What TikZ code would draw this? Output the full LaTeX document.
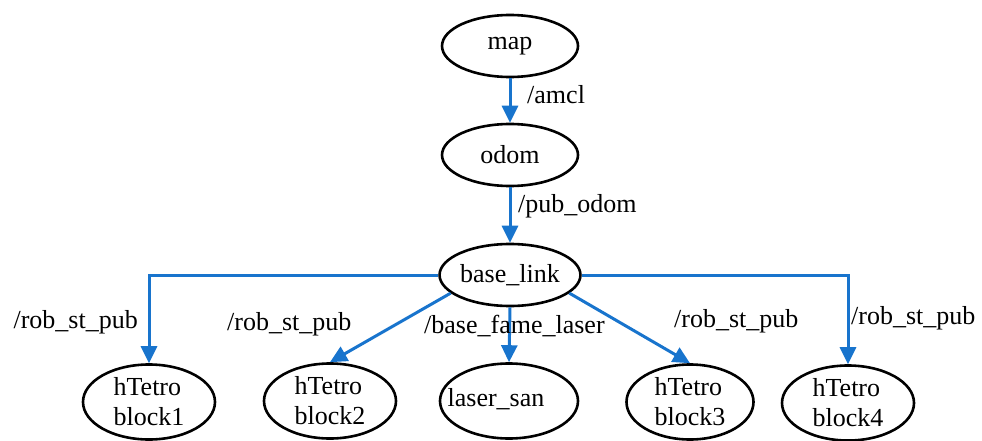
\documentclass[tikz,border=0pt]{standalone}
\usepackage{fontspec}
\setmainfont{Liberation Serif}
\usetikzlibrary{arrows.meta,shapes.geometric}

\definecolor{linkblue}{RGB}{24,116,205}

\tikzset{
  frame/.style={draw=black, line width=2.6pt, ellipse, inner sep=0pt},
  topnode/.style={frame, minimum width=136pt, minimum height=62pt},
  leafnode/.style={frame, minimum width=132pt, minimum height=75pt, align=left},
  txt/.style={font=\fontsize{26}{30}\selectfont},
  topic/.style={txt, inner sep=0pt},
  link/.style={draw=linkblue, line width=3pt, -{Triangle[length=17pt,width=16pt]}},
}

\begin{document}
\begin{tikzpicture}[x=1pt, y=-1pt]
  \useasboundingbox (0,0) rectangle (982,441);

  % frame tree
  \node[topnode, txt] (map)  at (510,46)  {map};
  \node[topnode, txt] (odom) at (510,155) {odom};
  \node[topnode, txt] (base) at (510,275) {base\_link};

  % leaf frames
  \node[leafnode, txt] (b1) at (149,402) {hTetro\\block1};
  \node[leafnode, txt] (b2) at (330,401) {hTetro\\block2};
  \node[leafnode, minimum width=138pt] (laser) at (509,401) {};
  \node[txt, inner sep=0pt] (lasertxt) at (496,399) {laser\_san};
  \node[leafnode, txt, minimum width=127pt] (b3) at (690,402) {hTetro\\block3};
  \node[leafnode, txt] (b4) at (848,403) {hTetro\\block4};

  % transforms
  \draw[link] (map.south) -- (odom.north);
  \draw[link] (odom.south) -- (base.north);
  \draw[link] (base.west) -| (b1.north);
  \draw[link] (base.197) -- (b2.north);
  \draw[link] (base.south) -- (laser.north);
  \draw[link] (base.343) -- (b3.north);
  \draw[link] (base.east) -| (b4.north);

  % topic labels
  \node[topic, anchor=west] (l1) at (527,95)  {/amcl};
  \node[topic, anchor=west] (l2) at (518,206) {/pub\_odom};
  \node[topic, anchor=east] (l3) at (138,322) {/rob\_st\_pub};
  \node[topic, anchor=west] (l4) at (227,324) {/rob\_st\_pub};
  \node[topic, anchor=west] (l5) at (424,326) {/base\_fame\_laser};
  \node[topic, anchor=west] (l6) at (674,321) {/rob\_st\_pub};
  \node[topic, anchor=west] (l7) at (851,318) {/rob\_st\_pub};
\end{tikzpicture}
\end{document}
